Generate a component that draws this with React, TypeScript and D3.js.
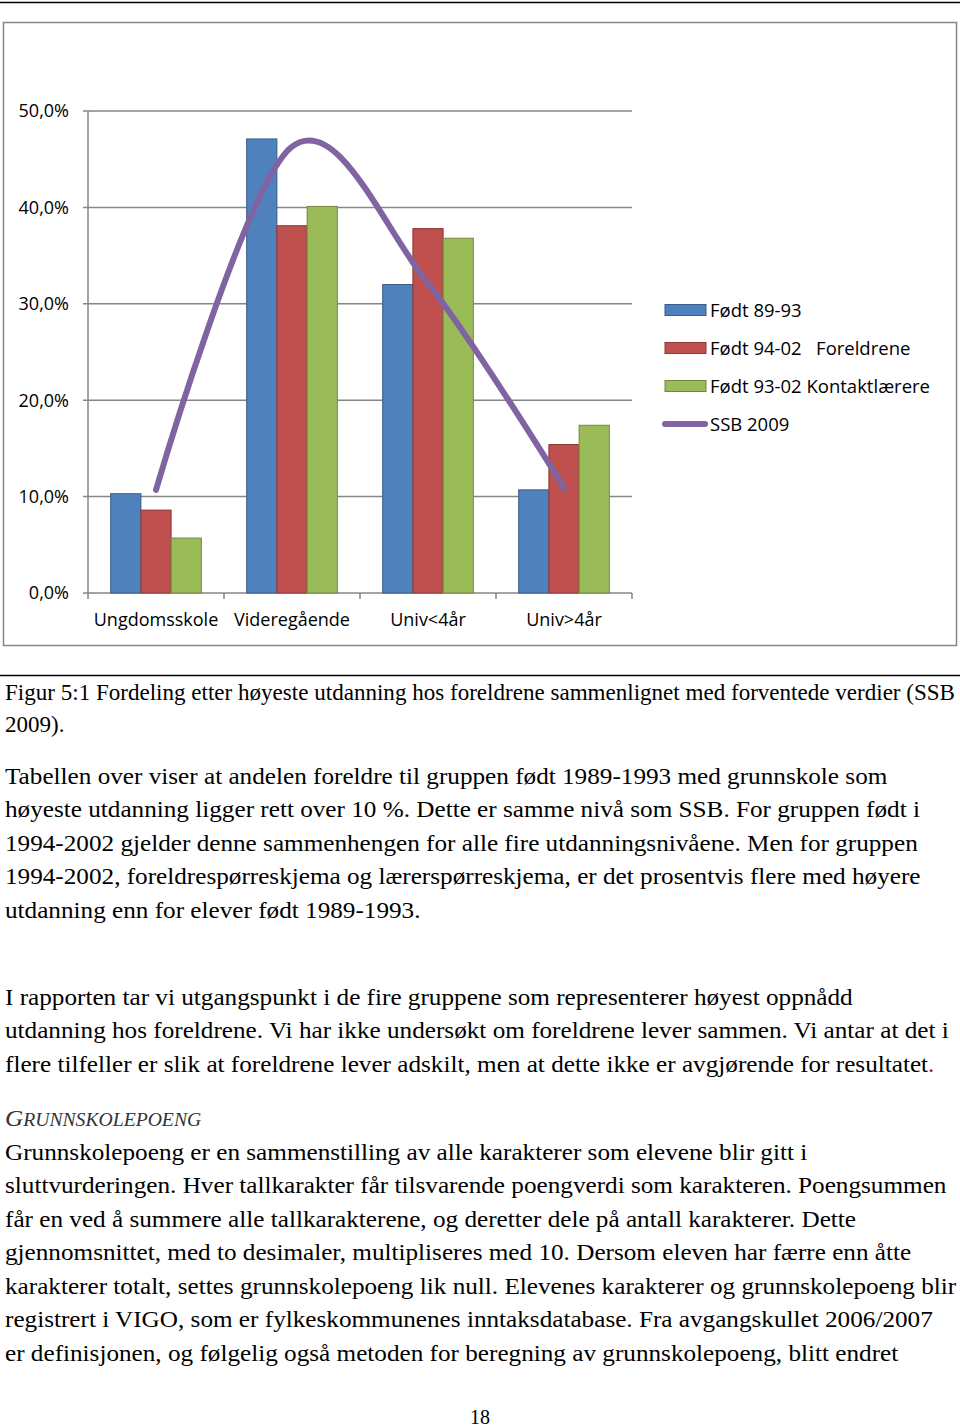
import React from 'react';
import * as d3 from 'd3';

const categories = ['Ungdomsskole', 'Videregående', 'Univ<4år', 'Univ>4år'];
const fodt8993 = [10.3, 47.1, 32.0, 10.7];
const fodt9402 = [8.6, 38.1, 37.8, 15.4];
const fodt9302 = [5.7, 40.1, 36.8, 17.4];
const ssb2009 = [10.7, 46.3, 32.1, 10.9];
const yTicks = [0, 10, 20, 30, 40, 50];

const barSeries = [
  { name: 'Født 89-93', values: fodt8993, fill: '#4F81BD', stroke: '#385D8A' },
  { name: 'Født 94-02   Foreldrene', values: fodt9402, fill: '#C0504D', stroke: '#8C3836' },
  { name: 'Født 93-02 Kontaktlærere', values: fodt9302, fill: '#9BBB59', stroke: '#71893F' },
];
const lineName = 'SSB 2009';

const captionLines = [
  'Figur 5:1 Fordeling etter høyeste utdanning hos foreldrene sammenlignet med forventede verdier (SSB',
  '2009).',
];
const para1 = [
  'Tabellen over viser at andelen foreldre til gruppen født 1989-1993 med grunnskole som',
  'høyeste utdanning ligger rett over 10 %. Dette er samme nivå som SSB. For gruppen født i',
  '1994-2002 gjelder denne sammenhengen for alle fire utdanningsnivåene. Men for gruppen',
  '1994-2002, foreldrespørreskjema og lærerspørreskjema, er det prosentvis flere med høyere',
  'utdanning enn for elever født 1989-1993.',
];
const para2 = [
  'I rapporten tar vi utgangspunkt i de fire gruppene som representerer høyest oppnådd',
  'utdanning hos foreldrene. Vi har ikke undersøkt om foreldrene lever sammen. Vi antar at det i',
  'flere tilfeller er slik at foreldrene lever adskilt, men at dette ikke er avgjørende for resultatet',
];
const heading = 'GRUNNSKOLEPOENG';
const para3 = [
  'Grunnskolepoeng er en sammenstilling av alle karakterer som elevene blir gitt i',
  'sluttvurderingen. Hver tallkarakter får tilsvarende poengverdi som karakteren. Poengsummen',
  'får en ved å summere alle tallkarakterene, og deretter dele på antall karakterer. Dette',
  'gjennomsnittet, med to desimaler, multipliseres med 10. Dersom eleven har færre enn åtte',
  'karakterer totalt, settes grunnskolepoeng lik null. Elevenes karakterer og grunnskolepoeng blir',
  'registrert i VIGO, som er fylkeskommunenes inntaksdatabase. Fra avgangskullet 2006/2007',
  'er definisjonen, og følgelig også metoden for beregning av grunnskolepoeng, blitt endret',
];
const pageNumber = '18';

const W = 960;
const H = 1428;
const chartFont = "'Open Sans', sans-serif";
const serif = "'Liberation Serif', 'Times New Roman', serif";
const axisColor = '#868686';

export default function App() {
  const plot = { left: 88, right: 632, top: 111, bottom: 593 };
  const x = d3.scaleBand<string>().domain(categories).range([plot.left, plot.right]);
  const y = d3.scaleLinear().domain([0, 50]).range([plot.bottom, plot.top]);
  const barW = x.bandwidth() / (barSeries.length + 1.5);
  const groupOffset = (x.bandwidth() - barW * barSeries.length) / 2;

  const linePath = d3
    .line<number>()
    .x((_, i) => (x(categories[i]) as number) + x.bandwidth() / 2)
    .y((d) => y(d))
    .curve(d3.curveCardinal.tension(0))(ssb2009) as string;

  // body text: Word page scan is a bit wider than Liberation Serif
  const lineH = 33.5;
  const bodySize = 23;
  const sx = 1.096;

  return (
    <svg
      width={W}
      height={H}
      viewBox={`0 0 ${W} ${H}`}
      style={{ position: 'absolute', left: 0, top: 0, background: '#fff' }}
    >
      <rect x={0} y={0} width={W} height={H} fill="#fff" />
      <line x1={0} x2={W} y1={2.5} y2={2.5} stroke="#000" strokeWidth={1.5} />

      {/* chart frame */}
      <rect x={3.5} y={22.5} width={953} height={623} fill="#fff" stroke={axisColor} strokeWidth={1.5} />

      {/* gridlines */}
      {yTicks.map((t) => (
        <g key={t}>
          <line x1={plot.left - 5} x2={plot.right} y1={y(t)} y2={y(t)} stroke={axisColor} strokeWidth={1.5} />
          <text
            x={69}
            y={y(t)}
            dy="0.36em"
            textAnchor="end"
            fontFamily={chartFont}
            fontSize={18}
            fill="#000"
          >
            {t.toFixed(1).replace('.', ',')}%
          </text>
        </g>
      ))}
      <line x1={plot.left} x2={plot.left} y1={plot.top} y2={plot.bottom} stroke={axisColor} strokeWidth={1.5} />
      {categories.map((c) => (
        <line
          key={'tk' + c}
          x1={(x(c) as number) + x.bandwidth()}
          x2={(x(c) as number) + x.bandwidth()}
          y1={plot.bottom}
          y2={plot.bottom + 6}
          stroke={axisColor}
          strokeWidth={1.5}
        />
      ))}
      <line x1={plot.left} x2={plot.left} y1={plot.bottom} y2={plot.bottom + 6} stroke={axisColor} strokeWidth={1.5} />

      {/* bars */}
      {barSeries.map((s, si) =>
        s.values.map((v, i) => (
          <rect
            key={s.name + i}
            x={(x(categories[i]) as number) + groupOffset + si * barW}
            y={y(v)}
            width={barW}
            height={y(0) - y(v)}
            fill={s.fill}
            stroke={s.stroke}
            strokeWidth={1}
          />
        ))
      )}

      {/* SSB line */}
      <path d={linePath} fill="none" stroke="#8064A2" strokeWidth={6} strokeLinecap="round" />

      {/* category labels */}
      {categories.map((c) => (
        <text
          key={'lb' + c}
          x={(x(c) as number) + x.bandwidth() / 2}
          y={620}
          dy="0.36em"
          textAnchor="middle"
          fontFamily={chartFont}
          fontSize={18}
          fill="#000"
        >
          {c}
        </text>
      ))}

      {/* legend */}
      {barSeries.map((s, i) => (
        <g key={'lg' + s.name} transform={`translate(665, ${310 + i * 38})`}>
          <rect x={0} y={-5.5} width={41} height={11} fill={s.fill} stroke={s.stroke} strokeWidth={1} />
          <text x={45} y={0} dy="0.36em" fontFamily={chartFont} fontSize={18.5} fill="#000" style={{ whiteSpace: 'pre' }}>
            {s.name}
          </text>
        </g>
      ))}
      <g transform={`translate(665, ${310 + 3 * 38})`}>
        <line x1={0} x2={40} y1={0} y2={0} stroke="#8064A2" strokeWidth={6} strokeLinecap="round" />
        <text x={45} y={0} dy="0.36em" fontFamily={chartFont} fontSize={18.5} fill="#000">
          {lineName}
        </text>
      </g>

      {/* caption */}
      <line x1={0} x2={W} y1={675.5} y2={675.5} stroke="#000" strokeWidth={1.5} />
      {captionLines.map((l, i) => (
        <text
          key={'cap' + i}
          x={5}
          y={700 + i * 32}
          fontFamily={serif}
          fontSize={23}
          fill="#000"
          textLength={i === 0 ? 950 : undefined}
          lengthAdjust="spacingAndGlyphs"
        >
          {l}
        </text>
      ))}

      {/* body text */}
      <g transform={`scale(${sx},1)`}>
        {para1.map((l, i) => (
          <text key={'p1' + i} x={5 / sx} y={784 + i * lineH} fontFamily={serif} fontSize={bodySize} fill="#000">
            {l}
          </text>
        ))}
        {para2.map((l, i) => (
          <text key={'p2' + i} x={5 / sx} y={1005 + i * lineH} fontFamily={serif} fontSize={bodySize} fill="#000">
            {l}
            {i === para2.length - 1 ? <tspan fill="#C00000">.</tspan> : null}
          </text>
        ))}
        <text x={5 / sx} y={1126} fontFamily={serif} fontSize={bodySize} fontStyle="italic" fill="#333">
          <tspan>{heading[0]}</tspan>
          <tspan fontSize={bodySize * 0.78}>{heading.slice(1)}</tspan>
        </text>
        {para3.map((l, i) => (
          <text key={'p3' + i} x={5 / sx} y={1160 + i * lineH} fontFamily={serif} fontSize={bodySize} fill="#000">
            {l}
          </text>
        ))}
      </g>
      <text x={480} y={1424} textAnchor="middle" fontFamily={serif} fontSize={20} fill="#000">
        {pageNumber}
      </text>
    </svg>
  );
}
